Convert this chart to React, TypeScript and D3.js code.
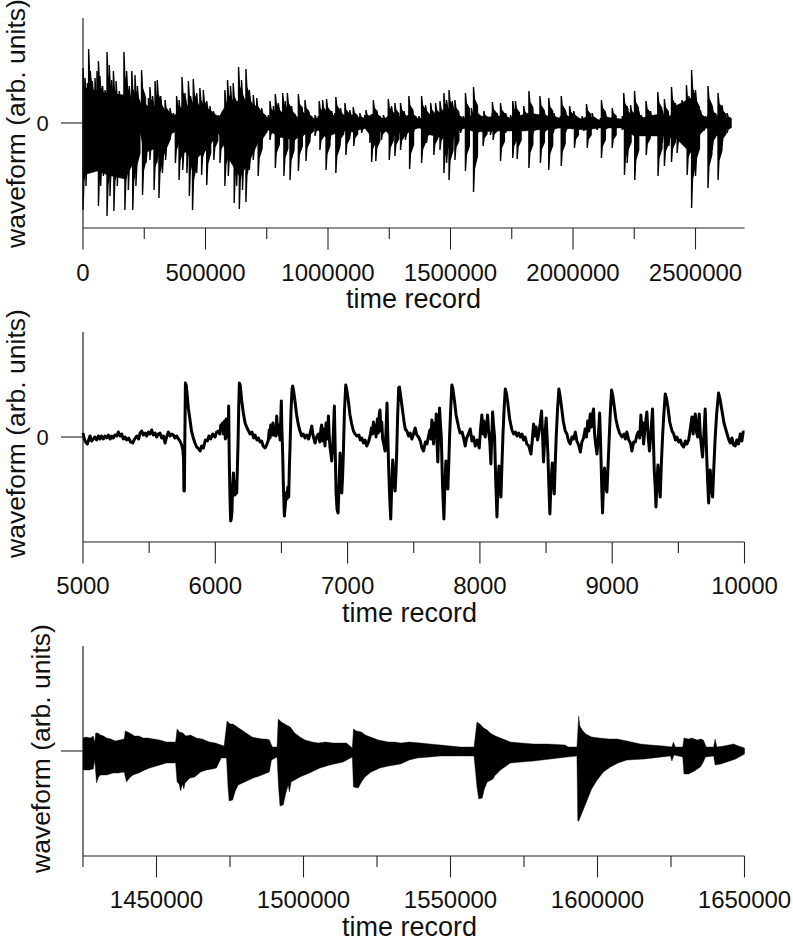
import React from "react";
import * as d3 from "d3";

type P = [number, number];

// Panel A: full record. Time in thousands of records, amplitude in arb. units.
const fullUpper: P[] = [[0,55],[8,45],[18,40],[23,74],[30,52],[38,42],[49,45],[57,52],[63,62],[69,47],[80,37],[90,33],[98,71],[107,58],[117,43],[124,52],[135,42],[148,32],[159,27],[167,71],[178,52],[189,37],[199,52],[212,48],[222,37],[230,23],[239,53],[249,30],[267,25],[273,36],[284,27],[294,42],[303,43],[317,27],[335,23],[355,15],[369,10],[382,27],[392,23],[404,46],[416,30],[430,42],[439,27],[450,44],[464,30],[477,35],[491,33],[505,22],[518,17],[532,12],[552,8],[570,10],[579,33],[590,43],[602,37],[613,40],[635,56],[647,43],[665,54],[679,33],[695,28],[709,25],[729,15],[756,8],[763,22],[777,17],[785,29],[797,20],[815,30],[825,22],[834,30],[851,17],[865,8],[879,29],[892,17],[906,23],[919,13],[947,8],[960,7],[964,22],[978,23],[994,24],[1015,12],[1028,10],[1032,26],[1051,15],[1069,20],[1089,13],[1103,16],[1130,10],[1150,8],[1155,13],[1185,23],[1198,13],[1226,8],[1246,24],[1259,17],[1273,20],[1293,7],[1296,20],[1310,12],[1330,27],[1344,13],[1371,7],[1382,27],[1398,18],[1419,20],[1439,20],[1457,22],[1473,30],[1484,23],[1494,33],[1507,22],[1518,23],[1530,12],[1552,7],[1561,30],[1575,10],[1585,15],[1594,36],[1606,15],[1636,12],[1670,10],[1671,21],[1690,10],[1704,20],[1725,10],[1745,8],[1754,22],[1765,22],[1775,10],[1799,17],[1820,32],[1834,13],[1865,27],[1881,13],[1901,25],[1922,10],[1949,7],[1952,27],[1969,12],[1986,17],[2003,12],[2037,7],[2055,19],[2078,10],[2112,5],[2116,23],[2132,10],[2160,15],[2201,7],[2207,30],[2221,17],[2235,18],[2251,32],[2268,12],[2278,8],[2298,22],[2316,12],[2346,31],[2364,13],[2373,24],[2391,8],[2402,36],[2418,20],[2445,23],[2463,38],[2473,27],[2484,53],[2500,33],[2520,13],[2541,7],[2551,37],[2568,17],[2581,10],[2592,30],[2608,18],[2629,10],[2645,0]];
const fullLower: P[] = [[0,-87],[12,-63],[26,-50],[46,-45],[63,-83],[72,-63],[83,-53],[98,-93],[110,-73],[126,-88],[140,-63],[154,-37],[171,-87],[185,-67],[203,-87],[216,-63],[230,-10],[243,-72],[257,-40],[273,-37],[290,-67],[301,-40],[310,-75],[324,-50],[337,-37],[355,-17],[369,-10],[377,-40],[385,-10],[392,-57],[407,-47],[424,-50],[434,-73],[447,-87],[464,-50],[484,-52],[505,-62],[515,-23],[534,-37],[545,-17],[559,-40],[570,-20],[579,-63],[593,-53],[617,-80],[627,-63],[638,-86],[651,-67],[665,-79],[679,-47],[695,-37],[715,-53],[729,-23],[749,-10],[763,-17],[785,-45],[797,-23],[820,-53],[845,-57],[858,-27],[879,-48],[892,-20],[910,-38],[924,-17],[947,-13],[967,-27],[992,-47],[1008,-17],[1032,-50],[1048,-23],[1073,-32],[1089,-13],[1105,-23],[1137,-10],[1171,-20],[1178,-39],[1195,-38],[1218,-17],[1250,-37],[1273,-33],[1287,-13],[1296,-27],[1316,-17],[1333,-46],[1348,-10],[1382,-40],[1402,-20],[1432,-32],[1457,-27],[1473,-50],[1484,-40],[1494,-57],[1507,-23],[1518,-37],[1541,-10],[1561,-48],[1575,-10],[1594,-69],[1609,-12],[1633,-23],[1663,-12],[1674,-17],[1704,-38],[1725,-10],[1754,-35],[1772,-36],[1786,-8],[1820,-45],[1834,-13],[1867,-40],[1881,-13],[1901,-47],[1919,-10],[1952,-43],[1969,-10],[2006,-25],[2044,-8],[2058,-25],[2098,-7],[2116,-35],[2128,-10],[2160,-25],[2201,-7],[2210,-52],[2221,-40],[2252,-57],[2272,-10],[2299,-32],[2316,-13],[2347,-53],[2364,-20],[2373,-43],[2391,-23],[2402,-39],[2425,-30],[2466,-52],[2484,-85],[2500,-53],[2513,-17],[2534,-8],[2551,-65],[2568,-27],[2581,-10],[2592,-57],[2608,-23],[2629,-10],[2645,0]];
const fullBodyUpper: P[] = [[0,36],[60,32],[100,30],[170,28],[225,19],[232,10],[250,18],[340,12],[370,6],[400,16],[500,16],[555,6],[590,21],[680,23],[720,12],[755,5],[790,11],[860,9],[880,5],[900,9],[950,4],[990,9],[1060,6],[1100,8],[1150,4],[1180,9],[1230,4],[1260,10],[1296,5],[1330,8],[1375,4],[1400,8],[1490,12],[1550,5],[1600,8],[1650,6],[1700,7],[1745,5],[1820,10],[1950,5],[2000,7],[2037,4],[2060,7],[2110,3],[2130,6],[2200,4],[2250,10],[2280,5],[2350,9],[2395,5],[2410,16],[2480,25],[2520,7],[2545,4],[2555,12],[2585,4],[2595,10],[2630,4],[2645,0]];
const fullBodyLower: P[] = [[0,-52],[60,-48],[100,-52],[170,-56],[225,-32],[232,-8],[250,-30],[340,-21],[370,-6],[400,-24],[450,-38],[500,-28],[555,-10],[590,-34],[640,-54],[680,-38],[720,-17],[750,-6],[800,-14],[860,-17],[900,-12],[950,-5],[990,-14],[1060,-8],[1100,-9],[1150,-5],[1180,-15],[1230,-6],[1260,-15],[1296,-8],[1375,-5],[1400,-11],[1490,-16],[1550,-5],[1600,-9],[1700,-8],[1800,-8],[1950,-5],[2050,-7],[2110,-5],[2200,-5],[2250,-13],[2350,-13],[2395,-9],[2480,-30],[2520,-9],[2545,-5],[2590,-13],[2630,-5],[2645,0]];

// Panel B: zoom on early records. Time in records.
const earlyTrace: P[] = [[5000,4],[5010,-2],[5020,-5],[5033,-7],[5045,-2],[5053,1],[5065,-4],[5078,-2],[5090,0],[5103,-3],[5116,1],[5128,-2],[5140,1],[5154,-2],[5166,1],[5180,-1],[5192,2],[5205,-2],[5217,1],[5229,-1],[5241,2],[5255,1],[5267,5],[5280,1],[5292,3],[5305,-2],[5318,0],[5330,-3],[5345,-1],[5360,-5],[5375,-6],[5390,-2],[5406,1],[5420,-2],[5432,4],[5444,6],[5456,2],[5470,4],[5481,1],[5495,5],[5507,3],[5519,7],[5532,2],[5545,4],[5557,0],[5570,3],[5582,4],[5595,-1],[5608,1],[5620,-6],[5632,0],[5645,5],[5658,1],[5670,3],[5683,2],[5695,-1],[5708,1],[5721,-2],[5733,-4],[5746,-8],[5755,-13],[5760,-22],[5763,-54],[5766,-54],[5770,0],[5774,54],[5780,52],[5789,40],[5797,28],[5809,17],[5820,6],[5834,-1],[5846,-6],[5859,-10],[5870,-11],[5885,-14],[5897,-9],[5910,-11],[5925,-3],[5940,-4],[5952,1],[5965,-2],[5980,3],[5998,0],[6010,5],[6023,6],[6035,3],[6042,12],[6048,8],[6055,14],[6062,3],[6070,16],[6076,-2],[6082,18],[6090,0],[6098,8],[6101,31],[6104,-5],[6106,-26],[6111,-60],[6116,-84],[6121,-82],[6126,-74],[6131,-50],[6137,-36],[6143,-52],[6149,-58],[6155,-44],[6162,-56],[6167,-30],[6172,-6],[6177,30],[6182,54],[6188,52],[6200,36],[6212,24],[6225,14],[6240,9],[6252,6],[6263,3],[6277,5],[6290,-1],[6300,2],[6315,-3],[6326,-1],[6338,-5],[6350,-4],[6362,-9],[6376,-11],[6388,-8],[6401,-3],[6408,7],[6414,-1],[6419,12],[6428,2],[6436,14],[6444,2],[6452,10],[6458,1],[6464,21],[6472,3],[6478,12],[6484,6],[6490,-3],[6499,36],[6503,10],[6509,-16],[6515,-50],[6522,-79],[6528,-70],[6535,-56],[6542,-62],[6548,-50],[6555,-60],[6560,-30],[6565,-9],[6572,25],[6580,48],[6585,51],[6592,46],[6603,35],[6615,22],[6628,12],[6640,6],[6653,1],[6665,3],[6678,-1],[6691,2],[6705,-2],[6717,4],[6729,11],[6740,1],[6754,-6],[6766,0],[6779,3],[6790,-5],[6798,8],[6804,12],[6812,-4],[6820,8],[6829,-9],[6837,14],[6845,-2],[6855,21],[6861,2],[6867,-10],[6875,-18],[6880,-24],[6890,-4],[6900,31],[6906,-10],[6913,-56],[6920,-72],[6928,-76],[6935,-50],[6943,-16],[6950,-38],[6956,-56],[6962,-40],[6968,-16],[6976,25],[6986,52],[6994,47],[7006,36],[7018,22],[7031,13],[7044,6],[7056,3],[7070,1],[7085,2],[7096,-3],[7107,-1],[7120,-6],[7132,-3],[7145,-9],[7158,-5],[7170,1],[7180,9],[7188,3],[7195,15],[7203,4],[7210,12],[7215,0],[7225,18],[7232,4],[7240,24],[7245,27],[7252,6],[7258,15],[7265,-2],[7275,-8],[7283,-14],[7290,5],[7298,34],[7304,0],[7311,-33],[7318,-60],[7326,-82],[7333,-52],[7341,-23],[7350,-42],[7359,-54],[7365,-38],[7371,-16],[7378,20],[7386,49],[7392,50],[7398,44],[7408,34],[7418,24],[7427,15],[7436,8],[7448,6],[7461,1],[7473,4],[7486,-2],[7498,3],[7511,9],[7523,2],[7536,0],[7550,-4],[7562,-11],[7574,-14],[7588,-5],[7600,-7],[7612,1],[7622,7],[7630,-2],[7637,17],[7644,2],[7650,-7],[7657,14],[7664,3],[7670,23],[7676,-6],[7682,-25],[7688,2],[7695,29],[7702,12],[7708,1],[7718,-50],[7728,-82],[7735,-50],[7743,-24],[7750,-42],[7758,-52],[7765,-25],[7771,1],[7780,30],[7788,52],[7796,48],[7808,36],[7820,22],[7839,10],[7850,4],[7865,5],[7877,-1],[7889,-9],[7900,-1],[7914,3],[7927,8],[7940,-4],[7952,0],[7965,-9],[7980,-3],[7995,-11],[8005,8],[8015,22],[8022,3],[8030,16],[8040,0],[8050,10],[8058,22],[8066,6],[8075,-5],[8083,-27],[8090,0],[8096,25],[8103,12],[8111,0],[8120,-45],[8129,-80],[8136,-50],[8144,-29],[8152,-50],[8159,-60],[8166,-30],[8174,1],[8183,28],[8192,48],[8200,44],[8209,36],[8225,18],[8242,7],[8255,3],[8268,5],[8280,1],[8293,4],[8305,0],[8318,3],[8330,-3],[8342,0],[8355,-7],[8370,-9],[8386,-17],[8396,-3],[8406,13],[8415,1],[8425,10],[8436,-3],[8444,3],[8455,13],[8466,26],[8474,0],[8481,-25],[8490,0],[8501,19],[8508,0],[8514,-17],[8521,-48],[8529,-77],[8538,-45],[8547,-26],[8555,-45],[8562,-57],[8570,-25],[8577,1],[8587,28],[8597,48],[8605,42],[8617,30],[8630,16],[8645,6],[8658,3],[8670,-4],[8683,-7],[8696,0],[8708,-2],[8721,5],[8733,-4],[8746,-8],[8759,-15],[8771,-5],[8784,-1],[8796,8],[8806,0],[8815,16],[8824,6],[8834,23],[8843,10],[8850,22],[8859,28],[8866,5],[8872,-4],[8880,-12],[8885,-17],[8895,0],[8905,24],[8911,0],[8917,-30],[8922,-55],[8927,-76],[8935,-45],[8942,-31],[8951,-50],[8960,-55],[8970,-25],[8978,1],[8986,25],[8995,47],[9005,41],[9016,30],[9028,18],[9041,10],[9055,4],[9074,0],[9090,3],[9100,-2],[9111,5],[9125,-3],[9138,-6],[9149,-14],[9162,-5],[9175,-5],[9187,2],[9197,5],[9208,-1],[9217,22],[9226,2],[9232,14],[9237,-7],[9247,8],[9254,16],[9262,25],[9272,0],[9282,-14],[9293,5],[9305,28],[9311,0],[9318,-34],[9325,-50],[9331,-70],[9338,-45],[9346,-28],[9354,-48],[9363,-60],[9372,-25],[9381,1],[9390,22],[9401,43],[9411,38],[9421,30],[9435,15],[9452,6],[9465,3],[9478,-3],[9489,0],[9503,-5],[9515,-3],[9527,-8],[9540,-10],[9553,-4],[9565,-7],[9578,-3],[9590,8],[9603,20],[9612,3],[9620,17],[9628,23],[9637,5],[9646,0],[9652,14],[9658,23],[9667,0],[9675,-10],[9683,-20],[9692,0],[9703,28],[9712,-10],[9720,-40],[9729,-66],[9735,-40],[9741,-33],[9750,-52],[9759,-60],[9770,-25],[9779,1],[9790,24],[9804,44],[9815,38],[9830,26],[9845,14],[9862,6],[9875,0],[9885,-4],[9893,-6],[9905,-1],[9917,-8],[9930,-9],[9942,-3],[9955,-7],[9968,3],[9980,-4],[9990,5],[10000,5]];

// Panel C: zoom on later records. Time in thousands of records.
const lateUpper: P[] = [[1425,13],[1426,14],[1427.5,13],[1428.5,15],[1429,8],[1429.3,18],[1430,18],[1431,16],[1432,15],[1433,13],[1434.5,12],[1436,10],[1437.5,11],[1439,12],[1439.4,20],[1440.2,19],[1441.5,17],[1442.5,15],[1444,15],[1445.5,13],[1447,13],[1449,12],[1451,11],[1453.4,9],[1455,9],[1456.5,9],[1457,22],[1457.8,19],[1459,18],[1460,15],[1461.5,16],[1463.6,13],[1465.5,12],[1468,9],[1470,8],[1472,6],[1473,5],[1474,30],[1475,27],[1476,27],[1477.5,24],[1478.5,22],[1479.5,20],[1481,17],[1482.5,14],[1484,13],[1486,12],[1487.5,12],[1488.4,11],[1489.4,4],[1491,4],[1491.4,32],[1492.5,29],[1494.2,26],[1495.5,24],[1497,18],[1498.8,14],[1500.5,11],[1503,9],[1505,8],[1507.5,9],[1510,8],[1512,8],[1514.6,8],[1516.6,3],[1517,22],[1518,20],[1519.7,19],[1521,16],[1523.7,13],[1525.5,11],[1528.8,9],[1531,9],[1533,8],[1536,9],[1539.8,8],[1543,7],[1546.6,6],[1550,5],[1553.4,4],[1556,4],[1558,4],[1559,29],[1560,27],[1561.3,23],[1562.5,21],[1563.5,18],[1565.3,15],[1567,13],[1570.4,9],[1574,8],[1578.3,7],[1583,7],[1589,6],[1590,4],[1593,4],[1593.6,35],[1594,25],[1594.8,21],[1596,17],[1598,14],[1600.5,13],[1604,12],[1606.7,12],[1610,10],[1614.6,7],[1618,6],[1622.5,5],[1625.3,4],[1625.8,9],[1626.5,4],[1629,4],[1629.4,13],[1631,12],[1632,13],[1634,11],[1635,12],[1636,11],[1637,4],[1639.5,4],[1640,12],[1640.6,4],[1643,5],[1646.3,7],[1648,5],[1650,3]];
const lateLower: P[] = [[1425,-19],[1427,-19],[1428.5,-18],[1429,-9],[1429.6,-32],[1430.3,-26],[1431,-24],[1433,-24],[1435.3,-22],[1437,-22],[1439,-21],[1439.8,-31],[1440.8,-27],[1442,-24],[1444,-22],[1446,-19],[1447.7,-17],[1450,-15],[1453.4,-12],[1456.5,-12],[1457,-31],[1457.7,-33],[1458.2,-40],[1458.8,-33],[1459.3,-38],[1459.7,-32],[1461.4,-27],[1463,-26],[1465,-21],[1467,-19],[1469,-18],[1470.4,-17],[1472,-7],[1473.8,-7],[1474.3,-35],[1474.7,-50],[1475.9,-49],[1476.8,-40],[1477.8,-34],[1480,-31],[1482.9,-27],[1485,-25],[1488.4,-21],[1489.1,-9],[1491,-6],[1491.5,-35],[1492,-55],[1493.1,-54],[1494,-42],[1494.8,-34],[1495.2,-41],[1495.8,-31],[1498.8,-26],[1502,-22],[1505.6,-17],[1509,-14],[1513.5,-11],[1516.6,-6],[1517,-36],[1518.6,-37],[1519.7,-31],[1520.9,-26],[1523,-21],[1526,-17],[1529,-15],[1533,-13],[1536,-9],[1538.7,-7],[1543,-6],[1546.6,-5],[1552,-5],[1558,-5],[1559,-36],[1559.6,-48],[1560.8,-47],[1561.5,-38],[1562.5,-31],[1564.5,-28],[1565,-25],[1567,-19],[1570.4,-12],[1574,-11],[1578.3,-10],[1584,-8],[1589.7,-6],[1593,-5],[1593.3,-70],[1593.6,-70],[1595,-60],[1596.5,-49],[1598,-38],[1599.9,-29],[1602,-21],[1604.4,-16],[1607,-12],[1610,-9],[1616,-8],[1624.8,-5],[1625.3,-10],[1626,-4],[1629,-6],[1629.4,-23],[1631,-23],[1633,-20],[1635,-16],[1636,-11],[1636.7,-6],[1639.5,-5],[1640,-14],[1642,-13],[1644,-11],[1647,-8],[1650,-3]];

const fullTicks = [0, 250000, 500000, 750000, 1000000, 1250000, 1500000, 1750000, 2000000, 2250000, 2500000];
const earlyTicks = [5000, 5500, 6000, 6500, 7000, 7500, 8000, 8500, 9000, 9500, 10000];
const lateTicks = [1425000, 1450000, 1475000, 1500000, 1525000, 1550000, 1575000, 1600000, 1625000, 1650000];

const FONT = '"Liberation Sans", Arial, sans-serif';
const AXIS = "#222";
const LEFT = 83;
const RIGHT = 744.5;

interface PanelProps {
  top: number;
  domain: [number, number];
  ticks: number[];
  majorStep: number;
  zeroLabel: boolean;
  titleX: number;
  timeX: number;
  labelY: number;
  timeY: number;
  titleBottom: number;
  children: (x: d3.ScaleLinear<number, number>, y: d3.ScaleLinear<number, number>) => React.ReactNode;
}

function Panel({ top, domain, ticks, majorStep, zeroLabel, titleX, timeX, labelY, timeY, titleBottom, children }: PanelProps) {
  const bottom = top + 210;
  const x = d3.scaleLinear().domain(domain).range([LEFT, RIGHT]);
  const y = d3.scaleLinear().domain([-105, 105]).range([bottom, top]);
  return (
    <g fontFamily={FONT} fill="#111">
      {children(x, y)}
      <line x1={LEFT} x2={LEFT} y1={top} y2={bottom} stroke="#111" strokeWidth={1.1} />
      <line x1={LEFT} x2={RIGHT} y1={bottom} y2={bottom} stroke={AXIS} strokeWidth={1.2} />
      <line x1={61} x2={LEFT} y1={y(0)} y2={y(0)} stroke={AXIS} strokeWidth={1.1} />
      {ticks.map((t) => {
        const major = t % majorStep === 0;
        return (
          <g key={t}>
            <line x1={x(t)} x2={x(t)} y1={bottom} y2={bottom + (major ? 21.5 : 11)} stroke={AXIS} strokeWidth={1.1} />
            {major && (
              <text x={x(t)} y={labelY} fontSize={24} textAnchor="middle">{t}</text>
            )}
          </g>
        );
      })}
      {zeroLabel && <text x={42.5} y={y(0) + 8} fontSize={22} textAnchor="middle">0</text>}
      <text x={timeX} y={timeY} fontSize={27} textAnchor="middle">time record</text>
      <text transform={`translate(${titleX},${titleBottom}) rotate(-90)`} fontSize={26.5}>waveform (arb. units)</text>
    </g>
  );
}

function Envelope({ points, x, y, scale, sw = 0.4 }: { points: P[]; x: (v: number) => number; y: (v: number) => number; scale: number; sw?: number }) {
  const d = d3.area<P>().x((p) => x(p[0] * scale)).y0(y(0)).y1((p) => y(p[1]))(points) ?? "";
  return <path d={d} fill="#000" stroke="#000" strokeWidth={sw} strokeLinejoin="round" />;
}

// Each read peak is drawn as a burst: sharp attack, then a quick ring-down.
function Bursts({ points, x, y, scale }: { points: P[]; x: (v: number) => number; y: (v: number) => number; scale: number }) {
  const burst = d3.area<P>().x((p) => p[0]).y0(y(0)).y1((p) => p[1]);
  return (
    <g fill="#000">
      {points.map((p) => {
        const px = x(p[0] * scale);
        const d = burst([
          [px - 0.7, y(p[1])],
          [px + 0.7, y(p[1])],
          [px + 1.6, y(p[1] * 0.66)],
          [px + 4.6, y(p[1] * 0.48)],
        ]);
        return <path key={p[0]} d={d ?? ""} />;
      })}
    </g>
  );
}

export default function App() {
  return (
    <svg width={793} height={942} style={{ position: "absolute", left: 0, top: 0, background: "#fff" }}>
      <Panel top={18} domain={[0, 2700000]} ticks={fullTicks} majorStep={500000} zeroLabel titleX={25} timeX={413.5} labelY={281} timeY={308} titleBottom={248}>
        {(x, y) => (
          <>
            <Envelope points={fullBodyUpper} x={x} y={y} scale={1000} />
            <Envelope points={fullBodyLower} x={x} y={y} scale={1000} />
            <Bursts points={fullUpper} x={x} y={y} scale={1000} />
            <Bursts points={fullLower} x={x} y={y} scale={1000} />
          </>
        )}
      </Panel>
      <Panel top={332} domain={[5000, 10000]} ticks={earlyTicks} majorStep={1000} zeroLabel titleX={25} timeX={409.5} labelY={594} timeY={622} titleBottom={558}>
        {(x, y) => (
          <path
            d={d3.line<P>().x((p) => x(p[0])).y((p) => y(p[1]))(earlyTrace) ?? ""}
            fill="none"
            stroke="#000"
            strokeWidth={3}
            strokeLinejoin="round"
          />
        )}
      </Panel>
      <Panel top={646} domain={[1425000, 1650000]} ticks={lateTicks} majorStep={50000} zeroLabel={false} titleX={50} timeX={409.5} labelY={908} timeY={936} titleBottom={873}>
        {(x, y) => (
          <>
            <Envelope points={lateUpper} x={x} y={y} scale={1000} />
            <Envelope points={lateLower} x={x} y={y} scale={1000} />
          </>
        )}
      </Panel>
    </svg>
  );
}
